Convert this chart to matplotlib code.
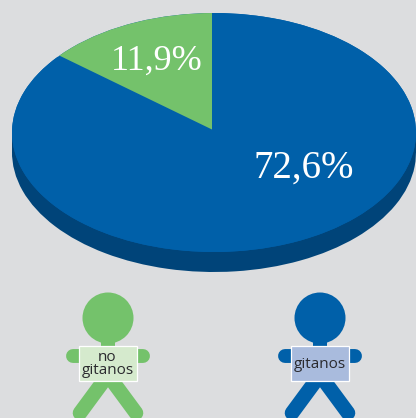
import matplotlib
matplotlib.use("Agg")
import matplotlib.pyplot as plt
from matplotlib.patches import Circle, Rectangle, Ellipse

# Data
categories = ["gitanos", "no gitanos"]
values = [72.6, 11.9]
value_labels = ["72,6%", "11,9%"]
person_labels = ["no\ngitanos", "gitanos"]

BG = "#DCDDDF"; BLUE = "#0060A9"; DARK = "#004479"; GREEN = "#74C26B"
PALE_G = "#D5EACD"; PALE_B = "#A9BBDD"

W, H = 416, 418
fig = plt.figure(figsize=(W/100, H/100), dpi=100, facecolor=BG)

# Pie axes: unit-circle axes mapped on ellipse bounding box
cx, cy, rx, ry, depth = 214, 132.5, 202, 119.5, 20
ax = fig.add_axes([(cx-rx)/W, 1-(cy+ry)/H, 2*rx/W, 2*ry/H])
ax.pie(values, colors=[DARK, DARK], startangle=90, counterclock=False,
       center=(0, -depth/ry), wedgeprops=dict(linewidth=0))
ax.add_patch(Rectangle((-1, -depth/ry), 2, depth/ry, color=DARK, lw=0))
ax.pie([sum(values)], colors=[BLUE], startangle=90, wedgeprops=dict(linewidth=0))
top, _ = ax.pie(values, colors=[BLUE, GREEN], startangle=90, counterclock=False,
                wedgeprops=dict(linewidth=0))
ax.set_aspect("auto"); ax.set_xlim(-1, 1); ax.set_ylim(-1, 1); ax.axis("off")
for p in ax.patches:
    p.set_clip_on(False)
# the drawn apex sits slightly off the ellipse centre (perspective)
outline = Ellipse((0, 0), 2, 2, transform=ax.transData)
top[1].set_center((-2/rx, 3/ry))
top[1].set_clip_on(True)
top[1].set_clip_path(outline)

# Overlay in pixel coordinates
ov = fig.add_axes([0, 0, 1, 1], facecolor="none")
ov.set_xlim(0, W); ov.set_ylim(H, 0); ov.axis("off")

serif = "Liberation Serif"
ov.text(304, 168, value_labels[0], color="white", fontsize=28, family=serif, ha="center", va="center")
ov.text(157, 61, value_labels[1], color="white", fontsize=26, family=serif, ha="center", va="center")

def person(x, color, pale, label):
    ov.add_patch(Circle((x, 318), 25.5, color=color, lw=0))
    ov.add_patch(Rectangle((x-7, 338), 14, 12, color=color, lw=0))
    ov.plot([x-35, x+35], [355.5, 355.5], color=color, lw=10, solid_capstyle="round")
    ov.plot([x-28, x, x+28], [413, 375, 413], color=color, lw=10.5,
            solid_capstyle="round", solid_joinstyle="miter")
    ov.add_patch(Rectangle((x-29.5, 346), 58.5, 35, facecolor=pale, edgecolor="white", lw=0.9, zorder=3))
    ov.text(x-0.5, 364, label, fontsize=11, family="Open Sans", color="#2a2a2e",
            ha="center", va="center", linespacing=0.8, zorder=4)

person(108, GREEN, PALE_G, person_labels[0])
person(320, BLUE, PALE_B, person_labels[1])

fig.savefig("out.png", dpi=100, facecolor=BG)
